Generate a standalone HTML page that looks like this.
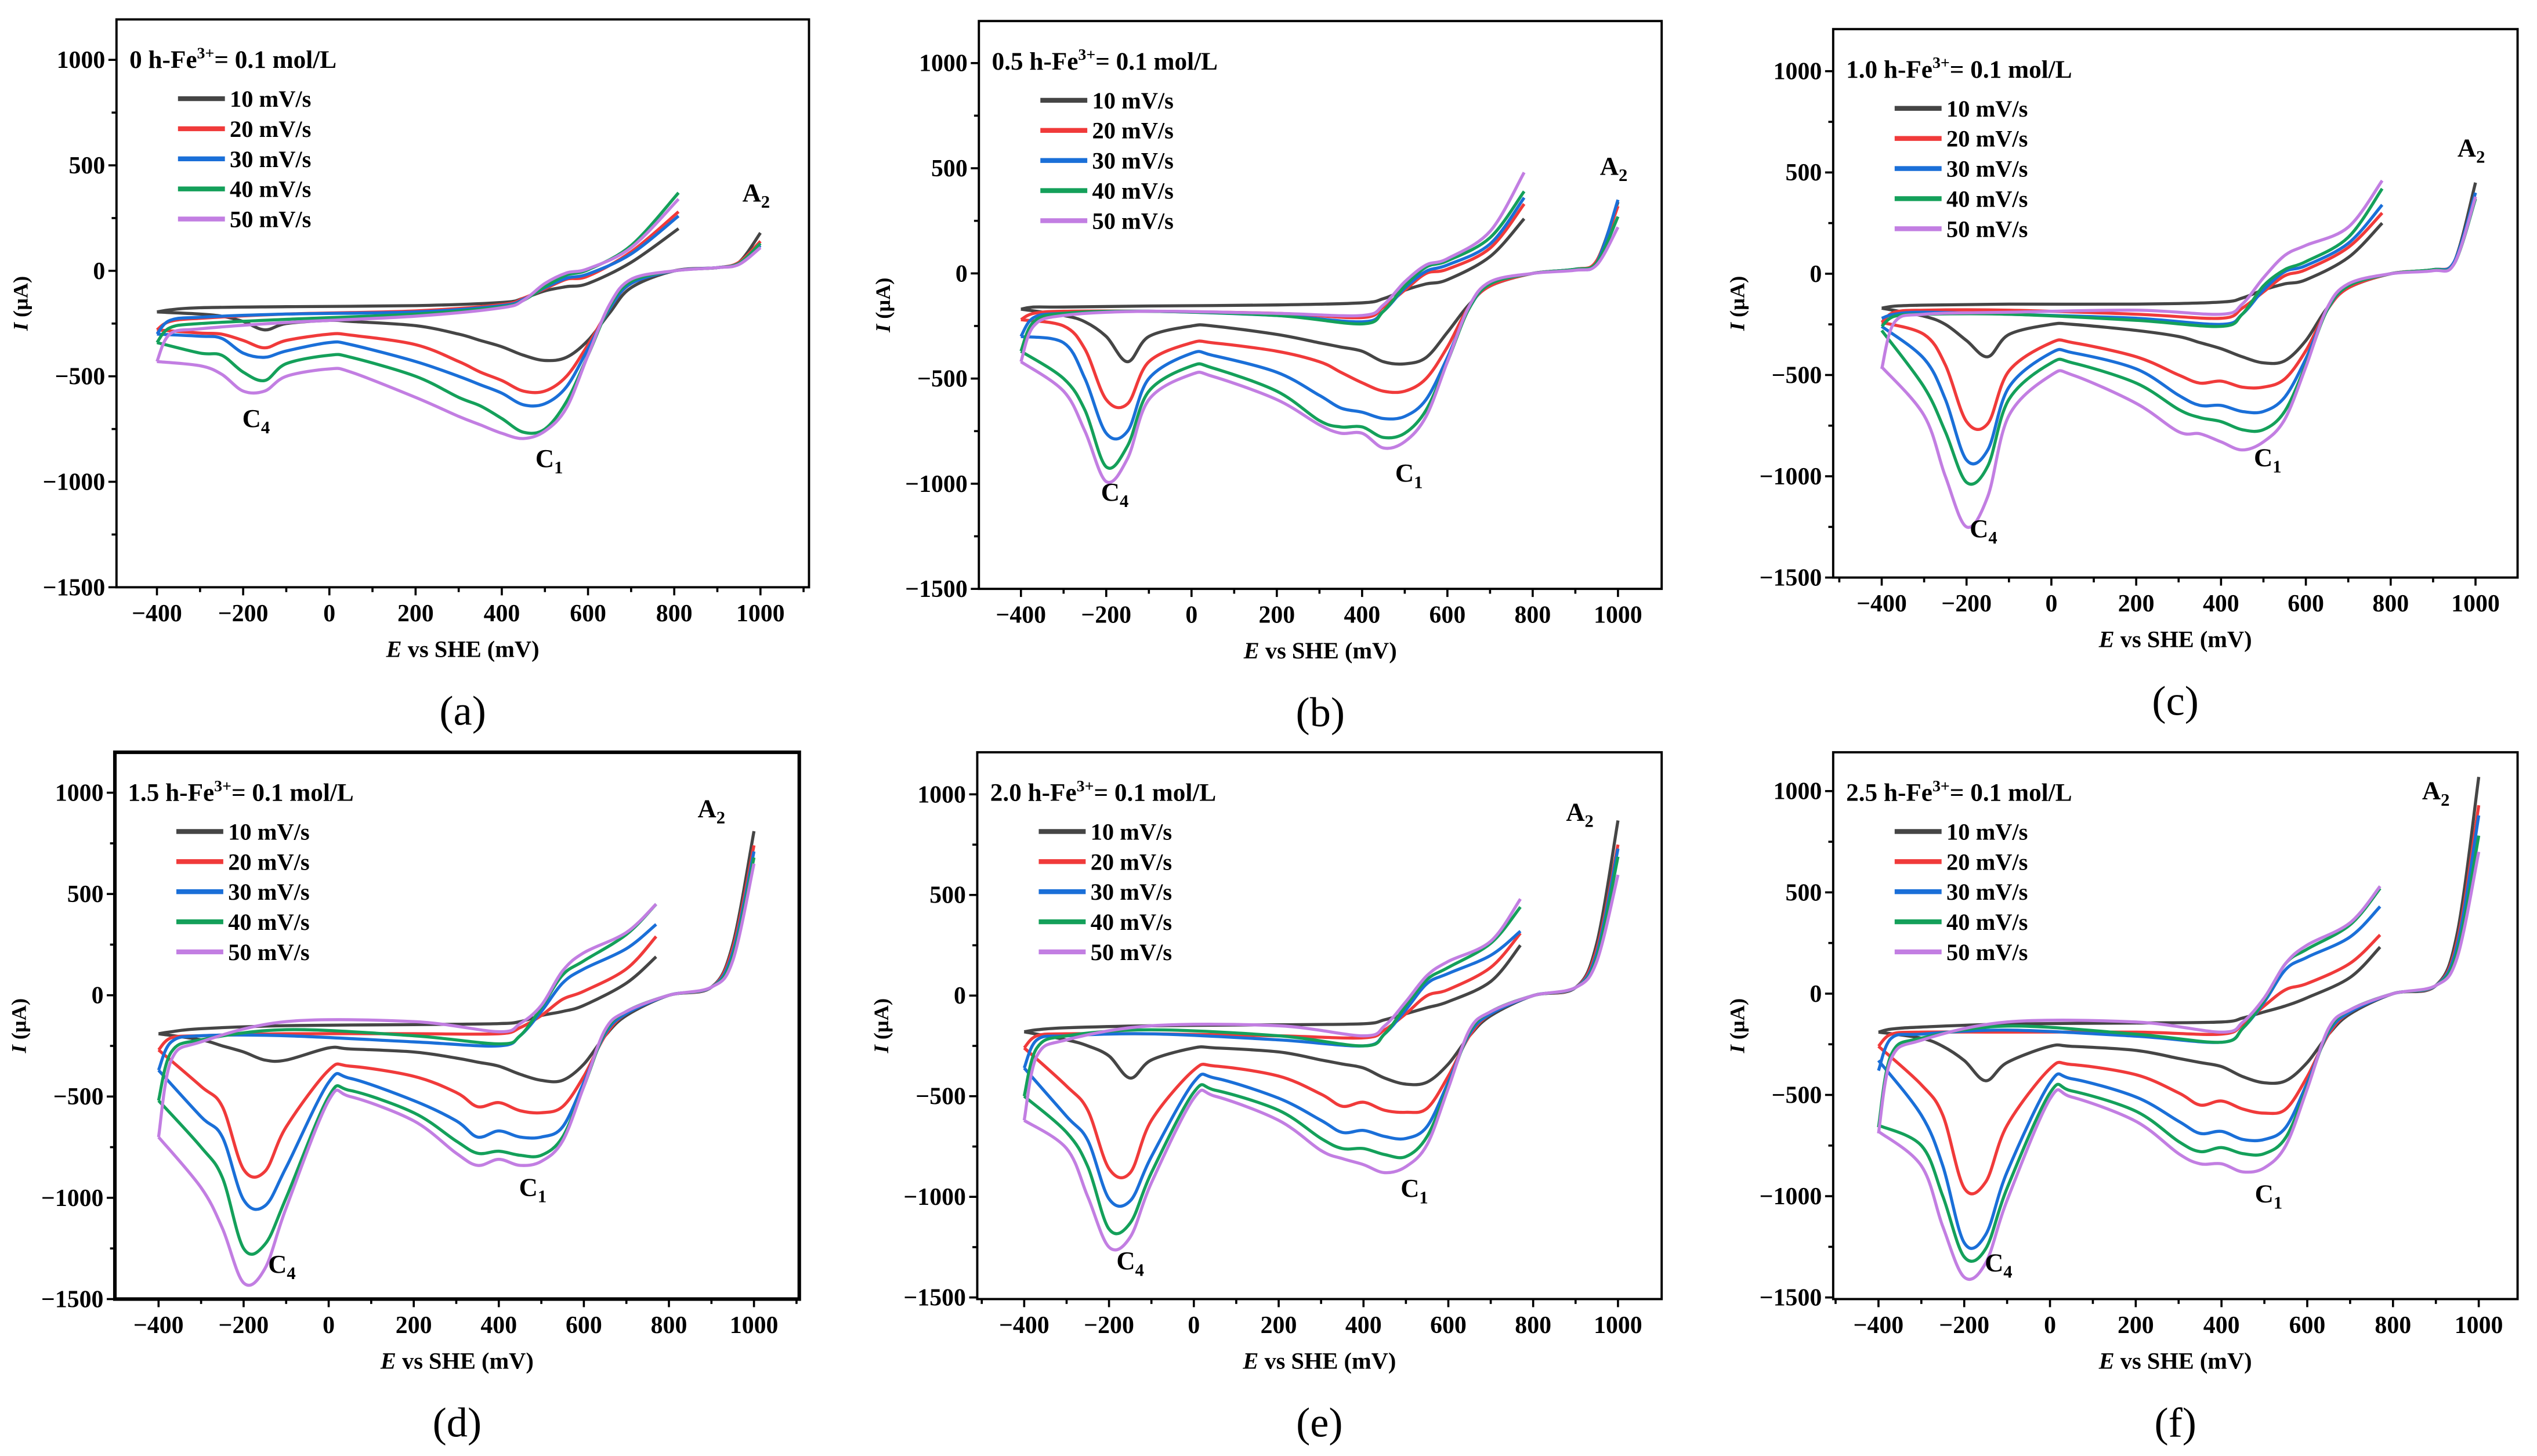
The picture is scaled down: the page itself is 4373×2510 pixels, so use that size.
<!DOCTYPE html>
<html><head><meta charset="utf-8">
<style>
html,body{margin:0;padding:0;background:#fff;}
svg{display:block;}
text{font-family:"Liberation Serif",serif;}
</style></head>
<body>
<svg id="fig" width="4373" height="2510" viewBox="0 0 1568 900" preserveAspectRatio="none" xmlns="http://www.w3.org/2000/svg"></svg>
<script>
// shared grids (mV)
const lowerE = [1000,950,900,800,700,650,600,550,500,450,400,350,300,200,50,0,-100,-150,-200,-250,-300,-400];
const upperBase = [-400,-370,-300,-100,200,400,450,500,550,600,700];
const seriesNames = ["10 mV/s","20 mV/s","30 mV/s","40 mV/s","50 mV/s"];
const xTicks = [-400,-200,0,200,400,600,800,1000];
const yTicks = [1000,500,0,-500,-1000,-1500];
const panelTitles = ["0 h","0.5 h","1.0 h","1.5 h","2.0 h","2.5 h"];
const panelLetters = ["a","b","c","d","e","f"];
const upperEnd = [810,780,780,770,770,770];

// panel (a)
const a10L=[180,40,15,0,-80,-200,-330,-410,-425,-400,-360,-330,-300,-260,-240,-235,-250,-280,-240,-215,-205,-195];
const a20L=[140,40,15,0,-60,-180,-350,-500,-570,-570,-520,-480,-430,-350,-305,-300,-330,-365,-330,-300,-295,-280];
const a30L=[120,35,15,0,-60,-180,-370,-550,-630,-635,-580,-540,-500,-430,-350,-340,-380,-410,-390,-320,-310,-300];
const a40L=[130,35,15,0,-50,-170,-400,-620,-750,-765,-700,-640,-600,-500,-410,-400,-440,-520,-480,-400,-390,-340];
const a50L=[110,30,15,0,-40,-160,-400,-650,-760,-795,-770,-730,-690,-600,-480,-465,-500,-570,-570,-490,-450,-430];
const a10U=[-195,-185,-175,-170,-165,-150,-130,-95,-75,-60,40,200];
const a20U=[-280,-240,-225,-205,-190,-160,-130,-85,-40,-25,90,280];
const a30U=[-300,-235,-220,-205,-195,-165,-135,-80,-35,-15,80,260];
const a40U=[-340,-270,-250,-230,-205,-170,-140,-75,-20,5,120,370];
const a50U=[-430,-300,-275,-245,-215,-175,-140,-60,-10,10,110,340];
// panel (b)
const b10L=[340,60,20,0,-60,-150,-280,-400,-430,-420,-370,-350,-330,-290,-250,-250,-300,-420,-300,-230,-200,-170];
const b20L=[320,60,20,0,-60,-160,-350,-500,-560,-560,-520,-470,-420,-370,-330,-330,-420,-620,-600,-360,-250,-220];
const b30L=[350,50,20,0,-50,-170,-400,-600,-680,-690,-660,-640,-580,-470,-390,-380,-500,-750,-760,-500,-330,-300];
const b40L=[270,50,20,0,-50,-170,-420,-650,-760,-780,-730,-730,-700,-560,-450,-440,-560,-820,-920,-650,-500,-370];
const b50L=[220,40,15,0,-40,-160,-420,-680,-800,-830,-760,-760,-720,-600,-490,-480,-600,-880,-990,-750,-560,-420];
const b10U=[-170,-160,-160,-155,-150,-140,-120,-80,-50,-30,80,260];
const b20U=[-220,-190,-180,-180,-190,-210,-160,-80,0,20,120,330];
const b30U=[-300,-210,-190,-180,-200,-230,-180,-70,10,40,140,360];
const b40U=[-370,-230,-190,-180,-200,-240,-180,-60,30,60,170,390];
const b50U=[-420,-250,-200,-180,-190,-200,-150,-40,40,70,200,480];
// panel (c)
const c10L=[450,60,20,0,-70,-170,-330,-430,-440,-410,-370,-340,-310,-280,-250,-250,-300,-410,-330,-250,-210,-170];
const c20L=[380,60,20,0,-70,-180,-380,-520,-560,-560,-530,-540,-500,-410,-340,-340,-480,-740,-730,-450,-300,-240];
const c30L=[400,60,20,0,-60,-180,-420,-610,-680,-680,-650,-650,-600,-470,-390,-390,-560,-870,-920,-620,-420,-260];
const c40L=[370,50,20,0,-60,-180,-450,-680,-770,-770,-730,-710,-670,-540,-440,-440,-620,-950,-1030,-780,-560,-280];
const c50L=[380,50,15,0,-50,-170,-460,-720,-830,-870,-830,-790,-780,-640,-500,-500,-700,-1100,-1250,-1000,-700,-460];
const c10U=[-170,-160,-155,-150,-150,-140,-120,-80,-50,-30,80,250];
const c20U=[-240,-190,-180,-180,-200,-220,-170,-90,-10,20,130,300];
const c30U=[-220,-200,-190,-200,-220,-250,-200,-80,10,40,150,340];
const c40U=[-260,-210,-200,-200,-230,-260,-200,-60,20,60,180,420];
const c50U=[-470,-240,-200,-190,-180,-200,-150,-20,90,140,230,460];
// panel (d)
const d10L=[810,250,40,0,-100,-200,-340,-420,-420,-390,-350,-330,-310,-280,-265,-260,-320,-320,-280,-250,-220,-190];
const d20L=[740,230,40,0,-90,-200,-400,-550,-580,-570,-530,-550,-480,-400,-350,-370,-650,-870,-860,-550,-450,-270];
const d30L=[710,210,40,0,-90,-190,-430,-650,-700,-700,-670,-700,-620,-520,-410,-430,-850,-1040,-1010,-700,-600,-370];
const d40L=[680,190,40,0,-80,-180,-450,-700,-790,-790,-770,-780,-720,-580,-470,-500,-1000,-1230,-1250,-900,-750,-520];
const d50L=[650,170,40,0,-80,-170,-450,-720,-820,-840,-810,-840,-780,-620,-500,-520,-1050,-1350,-1420,-1150,-950,-700];
const d10U=[-190,-180,-165,-150,-145,-140,-130,-100,-80,-50,60,190];
const d20U=[-270,-210,-200,-190,-190,-190,-160,-100,-20,20,130,290];
const d30U=[-370,-230,-200,-200,-230,-250,-200,-80,60,130,230,350];
const d40U=[-520,-280,-220,-170,-200,-240,-200,-60,100,170,300,450];
const d50U=[-700,-320,-230,-130,-130,-180,-140,-50,120,210,310,450];
// panel (e)
const e10L=[870,260,40,0,-100,-200,-340,-430,-440,-410,-360,-340,-320,-280,-260,-260,-320,-410,-300,-250,-220,-180];
const e20L=[750,230,40,0,-90,-200,-400,-560,-580,-570,-530,-550,-490,-400,-350,-370,-620,-880,-860,-570,-450,-260];
const e30L=[730,210,40,0,-90,-190,-430,-650,-710,-700,-670,-680,-620,-510,-410,-430,-800,-1020,-1010,-720,-600,-360];
const e40L=[690,190,40,0,-80,-180,-450,-700,-800,-790,-760,-760,-710,-570,-470,-480,-880,-1130,-1160,-850,-680,-500];
const e50L=[600,170,40,0,-80,-170,-460,-740,-850,-880,-840,-810,-770,-620,-500,-510,-930,-1200,-1250,-1000,-760,-620];
const e10U=[-180,-170,-160,-150,-145,-140,-120,-90,-60,-30,70,250];
const e20U=[-260,-200,-190,-190,-200,-210,-170,-90,0,30,140,310];
const e30U=[-360,-220,-200,-190,-220,-250,-190,-70,60,110,200,320];
const e40U=[-500,-260,-200,-170,-200,-250,-190,-50,80,140,260,440];
const e50U=[-620,-300,-220,-150,-150,-200,-150,-30,100,170,270,480];
// panel (f)
const f10L=[1070,300,40,0,-100,-200,-340,-430,-440,-410,-360,-340,-320,-280,-260,-260,-340,-430,-330,-260,-220,-190];
const f20L=[930,260,40,0,-90,-200,-410,-570,-590,-570,-530,-550,-490,-400,-350,-370,-650,-930,-960,-600,-450,-260];
const f30L=[880,240,40,0,-90,-190,-440,-660,-720,-720,-680,-690,-630,-510,-420,-440,-880,-1190,-1230,-850,-600,-330];
const f40L=[780,210,40,0,-80,-180,-460,-710,-790,-790,-760,-780,-730,-580,-480,-490,-960,-1260,-1300,-1000,-750,-650];
const f50L=[700,180,40,0,-80,-170,-470,-750,-860,-880,-840,-840,-790,-630,-510,-520,-1020,-1330,-1400,-1150,-850,-680];
const f10U=[-190,-175,-165,-150,-145,-140,-120,-90,-60,-20,80,230];
const f20U=[-260,-200,-190,-190,-190,-200,-150,-60,20,50,150,290];
const f30U=[-380,-220,-200,-180,-210,-240,-170,-40,120,180,280,430];
const f40U=[-660,-300,-220,-160,-200,-240,-170,-30,150,220,340,520];
const f50U=[-690,-320,-230,-140,-140,-190,-140,-20,150,240,350,530];

const lowerSets=[[a10L,a20L,a30L,a40L,a50L],[b10L,b20L,b30L,b40L,b50L],[c10L,c20L,c30L,c40L,c50L],[d10L,d20L,d30L,d40L,d50L],[e10L,e20L,e30L,e40L,e50L],[f10L,f20L,f30L,f40L,f50L]];
const upperSets=[[a10U,a20U,a30U,a40U,a50U],[b10U,b20U,b30U,b40U,b50U],[c10U,c20U,c30U,c40U,c50U],[d10U,d20U,d30U,d40U,d50U],[e10U,e20U,e30U,e40U,e50U],[f10U,f20U,f30U,f40U,f50U]];
// annotation anchors (mV, µA): C4, C1, A2
const annC4=[[-170,-740],[-180,-1080],[-160,-1300],[-110,-1370],[-150,-1360],[-120,-1370]];
const annC1=[[510,-930],[510,-990],[510,-950],[480,-990],[520,-1000],[510,-1030]];
const annA2=[[990,330],[990,470],[990,580],[900,880],[910,870],[900,960]];

// layout (viewBox units)
const layout=[
 {fx0:72,fy0:12,fx1:500,fy1:363,xa:97,xb:470,ya:37,yb:363,sw:1.4},
 {fx0:605,fy0:13,fx1:1027,fy1:364,xa:631,xb:1000,ya:39,yb:364,sw:1.4},
 {fx0:1133,fy0:18,fx1:1556,fy1:357,xa:1163,xb:1530,ya:44,yb:357,sw:1.4},
 {fx0:71,fy0:465,fx1:494,fy1:803,xa:98,xb:466,ya:490,yb:803,sw:2.2},
 {fx0:604,fy0:465,fx1:1027,fy1:803,xa:633,xb:1000,ya:491,yb:802,sw:1.4},
 {fx0:1133,fy0:465,fx1:1556,fy1:803,xa:1161,xb:1532,ya:489,yb:802,sw:1.4}
];
const colors=["#454545","#f03a3a","#1a6fd8","#14a05a","#c27ee2"];
const NS="http://www.w3.org/2000/svg";
const svg=document.getElementById('fig');
function mk(tag,attrs,parent){const e=document.createElementNS(NS,tag);for(const k in attrs)e.setAttribute(k,attrs[k]);(parent||svg).appendChild(e);return e;}
function smooth(pts){
  if(pts.length<2)return "";
  let d="M"+pts[0][0].toFixed(2)+","+pts[0][1].toFixed(2);
  for(let i=0;i<pts.length-1;i++){
    const p0=pts[i-1]||pts[i],p1=pts[i],p2=pts[i+1],p3=pts[i+2]||p2;
    const t=1/6;
    const c1=[p1[0]+(p2[0]-p0[0])*t,p1[1]+(p2[1]-p0[1])*t];
    const c2=[p2[0]-(p3[0]-p1[0])*t,p2[1]-(p3[1]-p1[1])*t];
    d+="C"+c1[0].toFixed(2)+","+c1[1].toFixed(2)+" "+c2[0].toFixed(2)+","+c2[1].toFixed(2)+" "+p2[0].toFixed(2)+","+p2[1].toFixed(2);
  }
  return d;
}

layout.forEach((L,p)=>{
  const g=mk('g',{});
  
  
  const X=v=>L.xa+(v+400)*(L.xb-L.xa)/1400;
  const Y=v=>L.ya+(1000-v)*(L.yb-L.ya)/2500;
  const fr=mk('rect',{x:L.fx0,y:L.fy0,width:L.fx1-L.fx0,height:L.fy1-L.fy0,fill:'none',stroke:'#000','stroke-width':L.sw},g);
  
  
  const xg=mk('g',{},g);
  
  
  for(let v=-500;v<=1100;v+=100){
    const x=X(v); if(x<L.fx0+1||x>L.fx1-1)continue;
    const major=(v%200===0);
    mk('line',{x1:x,x2:x,y1:L.fy1,y2:L.fy1+(major?5:3),stroke:'#000','stroke-width':1.3},xg);
  }
  xTicks.forEach(v=>{
    const t=mk('text',{x:X(v),y:L.fy1+21,'font-size':15,'font-weight':'bold','text-anchor':'middle'},xg);
    t.textContent=(v<0?"\u2212"+(-v):v);
    
    
  });
  const xt=mk('text',{x:(L.fx0+L.fx1)/2,y:L.fy1+43,'font-size':14.5,'font-weight':'bold','text-anchor':'middle'},g);
  xt.innerHTML='<tspan font-style="italic">E</tspan> vs SHE (mV)';
  
  
  const yg=mk('g',{},g);
  
  
  for(let v=-1500;v<=1000;v+=250){
    const y=Y(v); const major=(v%500===0);
    mk('line',{x1:L.fx0,x2:L.fx0-(major?5:3),y1:y,y2:y,stroke:'#000','stroke-width':1.3},yg);
  }
  yTicks.forEach(v=>{
    const t=mk('text',{x:L.fx0-7,y:Y(v)+5,'font-size':15,'font-weight':'bold','text-anchor':'end'},yg);
    t.textContent=(v<0?"\u2212"+(-v):v);
    
    
  });
  const cy=(L.fy0+L.fy1)/2, cx=L.fx0-55;
  const yt=mk('text',{x:cx,y:cy,'font-size':13,'font-weight':'bold','text-anchor':'middle',transform:'rotate(-90 '+cx+' '+cy+')'},g);
  yt.innerHTML='<tspan font-style="italic">I</tspan> (\u00b5A)';
  
  
  const sg=mk('g',{},g);
  
  
  for(let s=0;s<5;s++){
    const lv=lowerSets[p][s], uv=upperSets[p][s];
    const uE=upperBase.concat([upperEnd[p]]);
    const lp=lowerE.map((e,i)=>[X(e),Y(lv[i])]);
    const up=uE.map((e,i)=>[X(e),Y(uv[i])]);
    const pl=mk('path',{d:smooth(lp),fill:'none',stroke:colors[s],'stroke-width':1.9,'stroke-linejoin':'round'},sg);
    
    
    const pu=mk('path',{d:smooth(up),fill:'none',stroke:colors[s],'stroke-width':1.9,'stroke-linejoin':'round'},sg);
    
    
  }
  const tt=mk('text',{x:L.fx0+8,y:L.fy0+30,'font-size':15.5,'font-weight':'bold'},g);
  tt.innerHTML=panelTitles[p]+'-Fe<tspan dy="-6" font-size="10">3+</tspan><tspan dy="6">= 0.1 mol/L</tspan>';
  
  
  const lg=mk('g',{},g);
  
  
  for(let s=0;s<5;s++){
    const y=L.fy0+49+s*18.6;
    const ln=mk('line',{x1:L.fx0+38,x2:L.fx0+67,y1:y,y2:y,stroke:colors[s],'stroke-width':3},lg);
    
    
    const lt=mk('text',{x:L.fx0+70,y:y+5,'font-size':14.5,'font-weight':'bold'},lg);
    lt.textContent=seriesNames[s];
    
    
  }
  [[annC4[p],'C','4'],[annC1[p],'C','1'],[annA2[p],'A','2']].forEach(([pt,a,b])=>{
    const t=mk('text',{x:X(pt[0]),y:Y(pt[1]),'font-size':16,'font-weight':'bold','text-anchor':'middle'},g);
    t.innerHTML=a+'<tspan dy="4" font-size="11">'+b+'</tspan>';
    
    
  });
  const pl=mk('text',{x:(L.fx0+L.fx1)/2,y:L.fy1+85,'font-size':26,'text-anchor':'middle'},g);
  pl.textContent='('+panelLetters[p]+')';
  
  
});
</script>
</body></html>
